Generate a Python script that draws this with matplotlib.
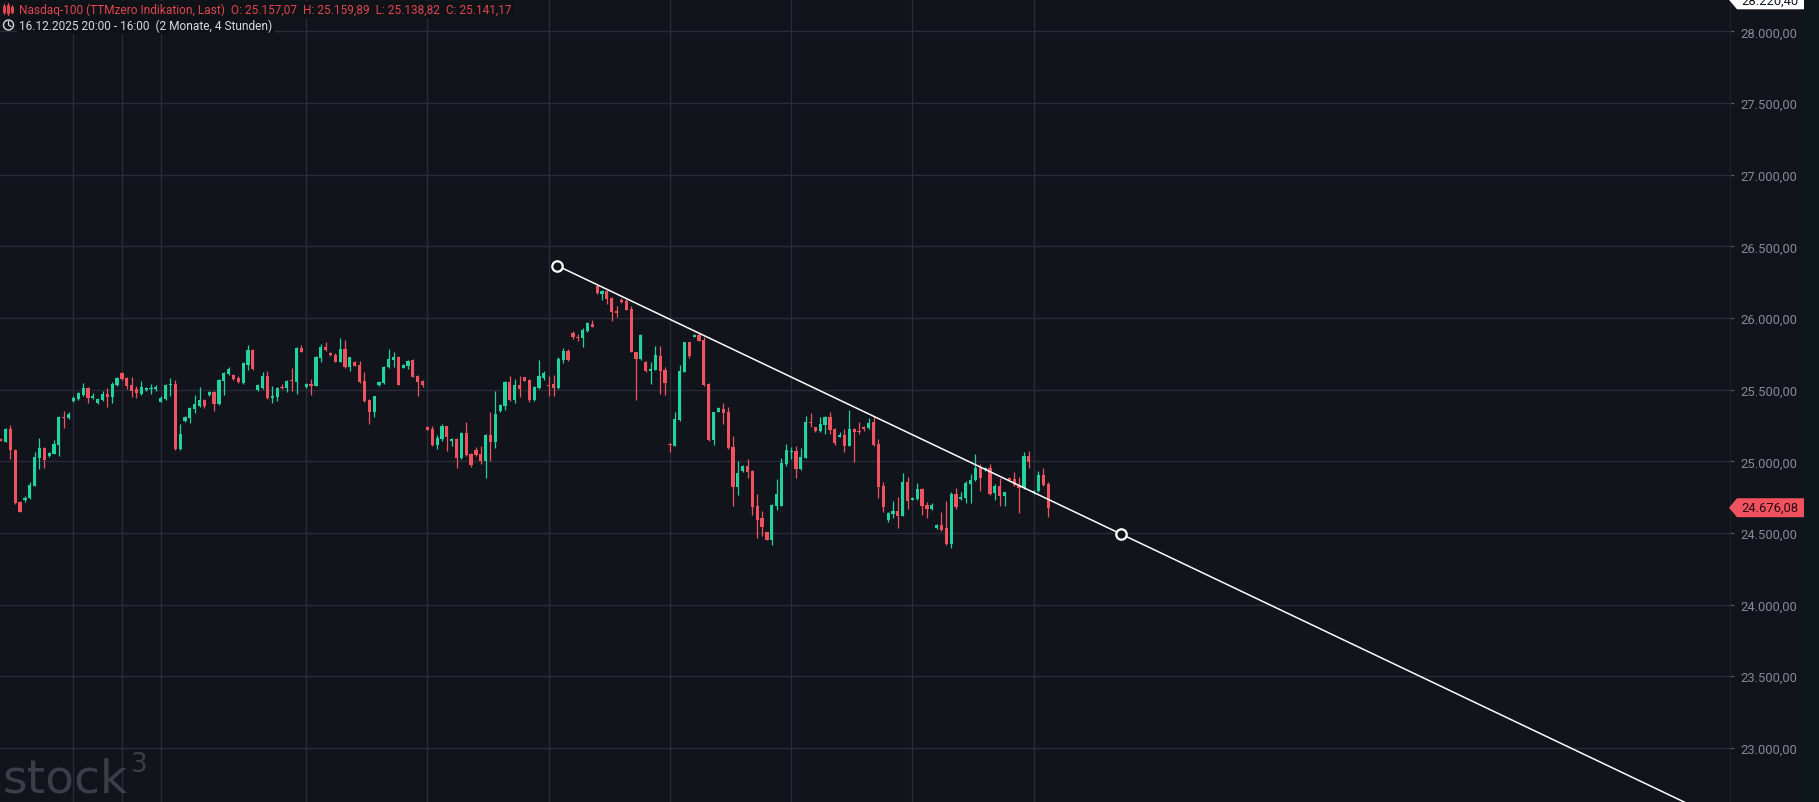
import numpy as np
import matplotlib
matplotlib.use("Agg")
import matplotlib.pyplot as plt
import matplotlib.transforms as mtransforms
from matplotlib.patches import Polygon, Rectangle, Circle
from matplotlib.lines import Line2D

# 4h candles, Nasdaq-100
opens = [25157.07, 25137, 25225, 25081, 24714, 24728, 24742, 24830, 25021, 25091,
         25035, 25053, 25114, 25309, 25302, 25419, 25435, 25463, 25511, 25442,
         25407, 25428, 25470, 25451, 25532, 25616, 25581, 25532, 25505, 25470,
         25498, 25505, 25505, 25416, 25435, 25532, 25539, 25086, 25281, 25302,
         25365, 25384, 25428, 25463, 25482, 25400, 25558, 25609, 25602, 25584,
         25546, 25672, 25777, 25500, 25514, 25597, 25442, 25449, 25518, 25511,
         25562, 25556, 25791, 25516, 25539, 25528, 25721, 25800, 25754, 25744,
         25695, 25784, 25660, 25695, 25672, 25562, 25428, 25342, 25535, 25546,
         25656, 25709, 25728, 25653, 25667, 25707, 25597, 25562, 25241, 25225,
         25116, 25156, 25244, 25140, 25156, 25023, 25198, 25051, 25079, 25051,
         25004, 25184, 25133, 25351, 25388, 25551, 25428, 25532, 25586, 25567,
         25428, 25511, 25583, 25532, 25539, 25514, 25709, 25770, 25893, 25867,
         25860, 25911, 25958, 26221, 26167, 26191, 26137, 26051, 26126, 26121,
         26063, 25761, 25714, 25695, 25632, 25639, 25733, 25639, 25116, 25109,
         25290, 25625, 25830, 25869, 25881, 25846, 25539, 25151, 25346, 25365,
         25346, 25098, 24823, 24932, 24965, 24932, 24688, 24602, 24505, 24453,
         24690, 24690, 24979, 25063, 25072, 24946, 25025, 25276, 25237, 25214,
         25253, 25311, 25225, 25172, 25184, 25109, 25225, 25214, 25241, 25232,
         25272, 25121, 24830, 24593, 24632, 24653, 24620, 24853, 24732, 24737,
         24807, 24695, 24667, 24535, 24556, 24535, 24423, 24772, 24737, 24742,
         24842, 24870, 24958, 24939, 24951, 24779, 24826, 24760, 24884, 24877,
         24835, 24812, 25035, 24784, 24795, 24904, 24842]
highs = [25159.89, 25230, 25253, 25086, 24725, 24756, 24854, 25067, 25163, 25098,
         25063, 25147, 25318, 25353, 25342, 25454, 25486, 25546, 25516, 25474,
         25440, 25488, 25511, 25551, 25588, 25621, 25586, 25588, 25523, 25560,
         25516, 25539, 25532, 25454, 25541, 25579, 25570, 25260, 25314, 25381,
         25463, 25516, 25435, 25493, 25493, 25574, 25625, 25656, 25607, 25597,
         25695, 25812, 25784, 25539, 25621, 25632, 25528, 25520, 25537, 25570,
         25651, 25795, 25812, 25546, 25574, 25737, 25819, 25835, 25761, 25754,
         25863, 25849, 25730, 25700, 25700, 25621, 25435, 25458, 25562, 25667,
         25784, 25765, 25733, 25677, 25707, 25714, 25602, 25567, 25248, 25248,
         25184, 25260, 25248, 25160, 25160, 25207, 25276, 25056, 25098, 25105,
         25188, 25342, 25493, 25400, 25562, 25597, 25574, 25597, 25590, 25574,
         25523, 25707, 25632, 25597, 25602, 25728, 25791, 25784, 25909, 25888,
         25928, 25974, 25986, 26230, 26197, 26197, 26144, 26082, 26137, 26133,
         26086, 25765, 25888, 25702, 25691, 25807, 25802, 25656, 25128, 25346,
         25672, 25835, 25835, 25888, 25895, 25865, 25544, 25346, 25379, 25407,
         25377, 25179, 25004, 24974, 25016, 24939, 24772, 24655, 24509, 24702,
         24877, 25021, 25121, 25102, 25109, 25091, 25318, 25335, 25242, 25307,
         25318, 25346, 25230, 25202, 25225, 25358, 25230, 25272, 25248, 25300,
         25314, 25156, 24854, 24648, 24725, 24749, 24916, 24888, 24751, 24849,
         24812, 24714, 24709, 24563, 24644, 24725, 24784, 24812, 24784, 24865,
         24912, 25051, 24981, 24962, 24981, 24842, 24884, 24788, 24891, 24923,
         24888, 25067, 25074, 24802, 24934, 24953, 24854]
lows = [25138.82, 25132, 25016, 24700, 24644, 24718, 24737, 24826, 24946, 24951,
        25030, 25049, 25035, 25230, 25297, 25412, 25430, 25454, 25407, 25435,
        25402, 25423, 25381, 25407, 25528, 25570, 25505, 25451, 25442, 25463,
        25493, 25470, 25493, 25412, 25430, 25458, 25081, 25081, 25276, 25267,
        25337, 25377, 25370, 25458, 25351, 25393, 25463, 25604, 25570, 25546,
        25539, 25639, 25639, 25493, 25505, 25435, 25407, 25423, 25507, 25486,
        25493, 25472, 25761, 25509, 25463, 25523, 25695, 25772, 25737, 25691,
        25691, 25649, 25628, 25663, 25546, 25416, 25260, 25307, 25528, 25539,
        25651, 25660, 25530, 25649, 25644, 25586, 25458, 25516, 25216, 25109,
        25086, 25144, 25072, 25105, 24955, 25016, 25039, 24958, 25039, 24981,
        24881, 25004, 25091, 25346, 25358, 25423, 25407, 25447, 25558, 25412,
        25423, 25505, 25570, 25458, 25456, 25505, 25686, 25700, 25853, 25842,
        25796, 25900, 25935, 26167, 26128, 26098, 25977, 26005, 26102, 26054,
        25761, 25428, 25709, 25621, 25539, 25635, 25470, 25463, 25067, 25105,
        25283, 25621, 25719, 25865, 25837, 25528, 25144, 25116, 25342, 25260,
        25086, 24690, 24767, 24923, 24886, 24625, 24467, 24481, 24449, 24416,
        24660, 24686, 24969, 25016, 24881, 24942, 25021, 25237, 25202, 25207,
        25191, 25191, 25116, 25168, 25067, 25105, 24997, 25191, 25209, 25225,
        25109, 24742, 24648, 24574, 24606, 24535, 24616, 24667, 24728, 24732,
        24625, 24606, 24660, 24528, 24514, 24418, 24395, 24667, 24732, 24709,
        24709, 24865, 24791, 24932, 24767, 24730, 24690, 24686, 24867, 24826,
        24639, 24807, 24951, 24772, 24788, 24826, 24613]
closes = [25141.17, 25225, 25081, 24709, 24648, 24746, 24835, 25028, 25091, 25011,
          25056, 25121, 25311, 25302, 25330, 25442, 25474, 25511, 25442, 25458,
          25435, 25472, 25449, 25542, 25581, 25574, 25523, 25493, 25474, 25518,
          25511, 25509, 25521, 25444, 25535, 25541, 25086, 25188, 25309, 25372,
          25400, 25430, 25384, 25486, 25400, 25567, 25616, 25644, 25574, 25551,
          25684, 25777, 25644, 25532, 25597, 25442, 25458, 25511, 25511, 25560,
          25558, 25791, 25765, 25539, 25528, 25730, 25800, 25779, 25742, 25695,
          25784, 25660, 25726, 25667, 25551, 25423, 25346, 25454, 25556, 25660,
          25714, 25730, 25535, 25672, 25700, 25590, 25556, 25532, 25220, 25116,
          25163, 25248, 25172, 25156, 25025, 25198, 25044, 24974, 25044, 25004,
          25184, 25137, 25330, 25393, 25551, 25428, 25535, 25505, 25562, 25428,
          25516, 25597, 25614, 25525, 25511, 25714, 25772, 25709, 25870, 25862,
          25918, 25965, 25939, 26172, 26186, 26133, 26044, 26037, 26114, 26058,
          25765, 25714, 25881, 25630, 25644, 25742, 25632, 25546, 25112, 25295,
          25632, 25830, 25733, 25881, 25842, 25535, 25151, 25342, 25370, 25337,
          25093, 24823, 24918, 24965, 24927, 24683, 24592, 24541, 24453, 24695,
          24770, 24988, 25081, 25074, 24946, 25030, 25276, 25265, 25212, 25262,
          25311, 25219, 25128, 25184, 25109, 25225, 25207, 25207, 25225, 25267,
          25116, 24823, 24683, 24639, 24653, 24616, 24853, 24725, 24746, 24807,
          24690, 24667, 24695, 24558, 24521, 24423, 24772, 24679, 24753, 24849,
          24872, 24953, 24884, 24953, 24772, 24830, 24760, 24784, 24872, 24835,
          24812, 25035, 24993, 24795, 24904, 24835, 24676.08]

price_ticks = [23000, 23500, 24000, 24500, 25000, 25500, 26000, 26500, 27000, 27500, 28000]
session_lines = [15, 25, 33, 63, 88, 113, 138, 163, 188, 213]   # vertical grid (candle index)
trend_x = [114.7, 231.0]
trend_y = [26366, 24493]
last_price = 24676.08
top_price = 28220.40

title_text = "Nasdaq-100 (TTMzero Indikation, Last)  O: 25.157,07  H: 25.159,89  L: 25.138,82  C: 25.141,17"
range_text = "16.12.2025 20:00 - 16:00  (2 Monate, 4 Stunden)"

# colours
BG = "#11141b"
GRID = "#2a2d35"
UP = "#22d3a0"
DOWN = "#f0525f"
AXTXT = "#868991"

W, H = 1819, 803
AXR = 1730  # right edge of the plot area in px


def de_fmt(v):
    s = f"{v:,.2f}"
    return s.replace(",", "X").replace(".", ",").replace("X", ".")


plt.rcParams['font.family'] = ['Roboto', 'DejaVu Sans']

fig = plt.figure(figsize=(W / 100, H / 100), dpi=100)
fig.patch.set_facecolor(BG)
ax = fig.add_axes([0, 0, AXR / W, 1])
ax.set_facecolor(BG)

o = np.array(opens)
h = np.array(highs)
l = np.array(lows)
c = np.array(closes)
x = np.arange(len(o))
col = np.where(c >= o, UP, DOWN)

# grid
for p in price_ticks:
    ax.axhline(p, color=GRID, lw=1, zorder=0)
for s in session_lines:
    ax.axvline(s, color=GRID, lw=1, zorder=0)

# candles
ax.vlines(x, l, h, colors=col, lw=0.9, zorder=2)
body_lo = np.minimum(o, c)
body_h = np.maximum(np.abs(c - o), 7)
ax.bar(x, body_h, bottom=body_lo, width=0.66, color=col, lw=0, zorder=3)

# trend line (ray from first point)
slope = (trend_y[1] - trend_y[0]) / (trend_x[1] - trend_x[0])
x_far = 420
ax.plot([trend_x[0], x_far], [trend_y[0], trend_y[0] + slope * (x_far - trend_x[0])],
        color="white", lw=1.1, zorder=4)
ax.plot(trend_x, trend_y, ls="none", marker="o", ms=7.5, mfc=BG, mec="white", mew=1.6, zorder=5)

ax.set_xlim(-0.144, 356.6)
ax.set_ylim(22622.5, 28226)

# price axis on the right
ax.yaxis.tick_right()
ax.set_yticks(price_ticks)
ax.set_yticklabels([de_fmt(p) for p in price_ticks])
ax.tick_params(axis="y", colors="#5a5d65", labelcolor=AXTXT, length=2.9, width=0.8,
               pad=4.3, labelsize=9.4)
ax.set_xticks([])
for side in ["top", "left", "bottom"]:
    ax.spines[side].set_visible(False)
ax.spines["right"].set_color("#1f232a")

# scrollbar strip at the far right
fig.patches.append(Rectangle((1803 / W, 0), 16 / W, 1, transform=fig.transFigure,
                             facecolor="#0d171b", edgecolor="none", zorder=0))

# price tags
blend = mtransforms.blended_transform_factory(fig.transFigure, ax.transData)


def price_tag(price, face, txtcol):
    hh = 9.5 * 6.98
    pts = [(1729 / W, price), (1737 / W, price + hh), (1804 / W, price + hh),
           (1804 / W, price - hh), (1737 / W, price - hh)]
    fig.patches.append(Polygon(pts, closed=True, transform=blend, facecolor=face,
                               edgecolor="none", zorder=5))
    fig.text(1770 / W, price, de_fmt(price), transform=blend, ha="center", va="center",
             fontsize=9.4, color=txtcol, zorder=6)


price_tag(last_price, DOWN, "#2a0b10")
price_tag(top_price, "white", "#131722")

# header
fy = lambda yy: 1 - yy / H
fig.text(19 / W, fy(10.5), title_text, ha="left", va="center", fontsize=8.6, color="#e0464f",
         bbox=dict(facecolor="#0f1217", edgecolor="none", pad=1.5), zorder=6)
fig.text(19 / W, fy(26), range_text, ha="left", va="center", fontsize=8.6, color="#d6d8de",
         bbox=dict(facecolor="#0f1217", edgecolor="none", pad=1.5), zorder=6)

# small candle icon and clock icon
for i, (y0, y1, b0, b1) in enumerate([(5, 15, 8, 12), (4, 16, 7, 13), (6, 14, 9, 12)]):
    xx = (4 + i * 4) / W
    fig.lines.append(Line2D([xx, xx], [fy(y0), fy(y1)], transform=fig.transFigure,
                            color="#e0464f", lw=0.8))
    fig.lines.append(Line2D([xx, xx], [fy(b0), fy(b1)], transform=fig.transFigure,
                            color="#e0464f", lw=2.2))
fig.patches.append(Circle((8.5, H - 26), 5, transform=None, facecolor="none",
                          edgecolor="#d6d8de", lw=1.0))
fig.lines.append(Line2D([8.5 / W, 8.5 / W, 11 / W], [fy(22.5), fy(26), fy(27.5)],
                        transform=fig.transFigure, color="#d6d8de", lw=0.9))

# watermark
fig.text(2 / W, fy(793), "stock", ha="left", va="baseline", fontsize=34, color="#3b3e46",
         family="DejaVu Sans")
fig.text(131 / W, fy(772), "3", ha="left", va="baseline", fontsize=19, color="#3b3e46",
         family="DejaVu Sans")

fig.savefig("out.png", dpi=100, facecolor=BG)
